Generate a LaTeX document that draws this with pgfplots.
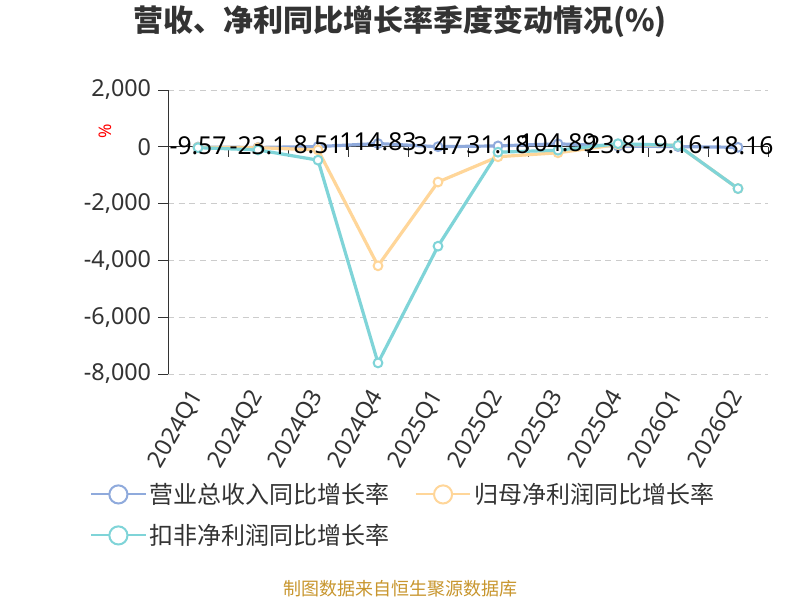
\documentclass[border=0pt]{standalone}
\usepackage{pgfplots}
\usepackage{pgfplotstable}
\pgfplotsset{compat=1.18}
\usepackage{fontspec}
\setmainfont{Noto Sans}
\newfontfamily\cjk{Noto Sans CJK SC}
\definecolor{cblue}{HTML}{8FAADC}
\definecolor{corange}{HTML}{FFD699}
\definecolor{cteal}{HTML}{7FD4D8}
\definecolor{ctext}{HTML}{333333}
\definecolor{cgrid}{HTML}{CCCCCC}
\definecolor{cfoot}{HTML}{C8962E}

\pgfplotstableread{
x y lab
0 -9.57 -9.57
1 -23.1 -23.1
2 8.51 8.51
3 114.83 114.83
4 3.47 3.47
5 31.18 31.18
6 104.89 104.89
7 23.81 23.81
8 9.16 9.16
9 -18.16 -18.16
}\revtab

\pgfplotstableread{
x y
0 -20
1 -30
2 -110
3 -4190
4 -1240
5 -350
6 -210
7 80
8 50
9 -1470
}\nettab

\pgfplotstableread{
x y
0 -30
1 -110
2 -470
3 -7610
4 -3500
5 -190
6 -120
7 110
8 50
9 -1470
}\dedtab

\begin{document}
\begin{tikzpicture}
\path[use as bounding box, fill=white] (0pt,0pt) rectangle (600pt,-450pt);
\begin{axis}[
  at={(126pt,-280.5pt)}, anchor=south west,
  scale only axis, width=450pt, height=213pt,
  xmin=-0.5, xmax=9.5, ymin=-8000, ymax=2000,
  axis y line*=left,
  axis x line*=bottom,
  x axis line style={draw=none},
  y axis line style={ctext, line width=0.75pt},
  xtick={0,...,9},
  xticklabels={2024Q1,2024Q2,2024Q3,2024Q4,2025Q1,2025Q2,2025Q3,2025Q4,2026Q1,2026Q2},
  xtick style={draw=none},
  ytick={-8000,-6000,-4000,-2000,0,2000},
  ytick style={ctext, line width=0.75pt},
  tick align=outside,
  major tick length=7.5pt,
  ymajorgrids,
  grid style={cgrid, line width=0.75pt, dash pattern=on 4.5pt off 3.5pt},
  /pgf/number format/1000 sep={,},
  /pgf/number format/assume math mode=true,
  yticklabel style={font=\fontsize{17.5pt}{17.5pt}\selectfont, text=ctext, inner sep=0pt, xshift=-5pt},
  xticklabel style={font=\fontsize{17.5pt}{17.5pt}\selectfont, text=ctext, inner sep=0pt, yshift=-6pt, rotate=60, anchor=east},
  clip=false,
  legend style={at={(-0.137,-0.365)}, anchor=north west, draw=none, fill=none,
    font=\cjk\fontsize{18pt}{18pt}\selectfont, text=ctext,
    legend columns=2, row sep=10pt,
    /tikz/every even column/.append style={column sep=17pt}},
  legend cell align=left,
  legend image code/.code={
    \draw[#1, line width=1.5pt, mark=none] (0pt,0pt) -- (41pt,0pt);
    \draw[#1, line width=1.5pt, fill=white, mark=none] (20.5pt,0pt) circle (6.8pt);
  },
]
\draw[ctext, line width=0.75pt] (axis cs:-0.5,0) -- (axis cs:9.5,0);
\pgfplotsinvokeforeach{-0.5,0.5,1.5,2.5,3.5,4.5,5.5,6.5,7.5,8.5,9.5}{
  \draw[ctext, line width=0.75pt] (axis cs:#1,0) -- ++(0pt,-7.5pt);
}
\addplot[cblue, line width=2.4pt, mark=*, mark size=3.3pt,
  mark options={fill=white, line width=1.5pt}] table[x=x, y=y] {\revtab};
\addlegendentry{营业总收入同比增长率}
\addplot[corange, line width=2.4pt, mark=*, mark size=3.3pt,
  mark options={fill=white, line width=1.5pt}] table[x=x, y=y] {\nettab};
\addlegendentry{归母净利润同比增长率}
\addplot[cteal, line width=2.4pt, mark=*, mark size=3.3pt,
  mark options={fill=white, line width=1.5pt}] table[x=x, y=y] {\dedtab};
\addlegendentry{扣非净利润同比增长率}
\addplot[draw=none, mark=none, forget plot, nodes near coords,
  point meta=explicit symbolic,
  every node near coord/.style={anchor=center, yshift=1pt, inner sep=0pt,
    font=\fontsize{18.5pt}{18.5pt}\selectfont, text=black}]
  table[x=x, y=y, meta=lab] {\revtab};
\end{axis}
\node[font=\cjk\bfseries\fontsize{22.5pt}{22.5pt}\selectfont, text=ctext] at (300pt,-16.5pt) {营收、净利同比增长率季度变动情况(\%)};
\node[font=\fontsize{13pt}{13pt}\selectfont, text=red, rotate=90] at (78.75pt,-98.25pt) {\%};
\node[font=\cjk\fontsize{13.5pt}{13.5pt}\selectfont, text=cfoot] at (300pt,-441.75pt) {制图数据来自恒生聚源数据库};
\end{tikzpicture}
\end{document}
